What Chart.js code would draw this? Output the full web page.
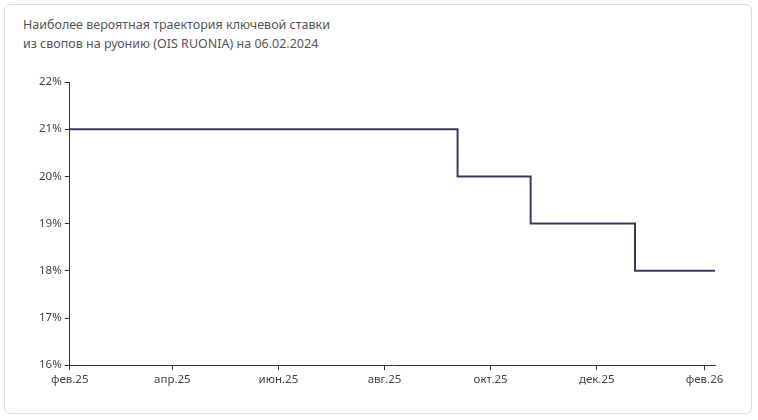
<!DOCTYPE html>
<html><head><meta charset="utf-8">
<script src="https://cdn.jsdelivr.net/npm/chart.js@4/dist/chart.umd.min.js"></script>
<style>
html,body{margin:0;padding:0;background:#fff;}
#wrap{position:absolute;left:4px;top:4px;width:748px;height:410px;border:1px solid #ddd;border-radius:6px;box-sizing:border-box;}
#title{position:absolute;left:18px;top:10px;font:12.5px "Noto Sans",sans-serif;color:#555;line-height:19px;}
#c{position:absolute;left:0;top:0;}
</style></head><body>
<div id="wrap"><div id="title">Наиболее вероятная траектория ключевой ставки<br>из свопов на руонию (OIS RUONIA) на 06.02.2024</div></div>
<canvas id="c" width="758" height="420"></canvas>
<script>
const pointDates = ['2025-02-01','2025-09-12','2025-09-12','2025-10-24','2025-10-24','2025-12-23','2025-12-23','2026-02-07'];
const rates = [21,21,20,20,19,19,18,18];
const tickDates = ['2025-02-01','2025-04-01','2025-06-01','2025-08-01','2025-10-01','2025-12-01','2026-02-01'];
const tickLabels = ['фев.25','апр.25','июн.25','авг.25','окт.25','дек.25','фев.26'];
const base = Date.UTC(2025,1,1);
const day = s => { const [y,m,d]=s.split('-').map(Number); return (Date.UTC(y,m-1,d)-base)/86400000; };
const tickDays = tickDates.map(day);
new Chart(document.getElementById('c'),{
 type:'line',
 data:{datasets:[{data:pointDates.map((d,i)=>({x:day(d),y:rates[i]})),borderColor:'#3b3a5e',borderWidth:2,pointRadius:0,tension:0}]},
 options:{responsive:false,animation:false,
  layout:{padding:{left:36,right:43,top:82,bottom:30}},
  plugins:{legend:{display:false},tooltip:{enabled:false}},
  scales:{
   x:{type:'linear',min:0,max:371,
     afterBuildTicks:a=>{a.ticks=tickDays.map(v=>({value:v}));},
     ticks:{autoSkip:false,maxRotation:0,color:'#444',font:{size:11.5,family:'Noto Sans'},callback:(v)=>tickLabels[tickDays.indexOf(v)]},
     grid:{display:true,drawOnChartArea:false,tickLength:5,color:'#333'},border:{color:'#333'}},
   y:{min:16,max:22,
     ticks:{stepSize:1,color:'#444',font:{size:11.5,family:'Noto Sans'},callback:v=>v+'%'},
     grid:{display:true,drawOnChartArea:false,tickLength:5,color:'#333'},border:{color:'#333'}}
  }}
});
</script></body></html>
